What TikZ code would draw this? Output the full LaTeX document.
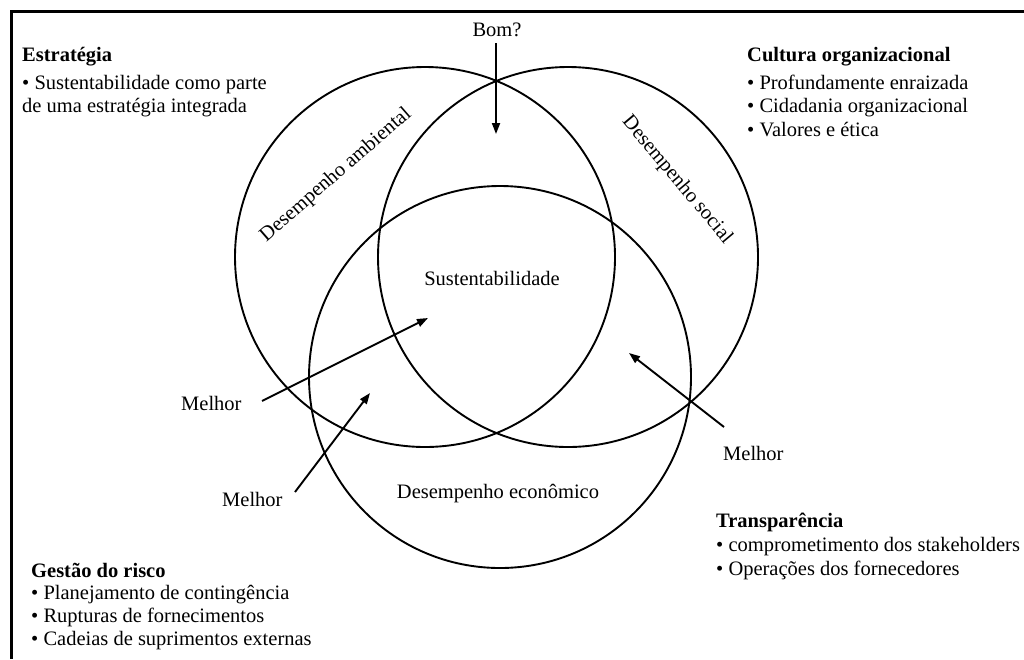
\documentclass[tikz,border=0pt]{standalone}
\usepackage{fontspec}
\setmainfont{Liberation Serif}
\usetikzlibrary{arrows.meta}
\begin{document}
\begin{tikzpicture}[x=1pt,y=-1pt,
  txt/.style={inner sep=0pt, font=\fontsize{20.5pt}{23.5pt}\selectfont},
  head/.style={inner sep=0pt, font=\fontsize{20.5pt}{23.5pt}\selectfont\bfseries},
  line/.style={anchor=base west, txt},
  headline/.style={anchor=base west, head},
  ring/.style={draw=black, line width=1.9pt},
  frameline/.style={draw=black, line width=2.4pt},
  arr/.style={draw=black, line width=1.9pt, -{Triangle[length=11pt,width=8pt]}}
]
\useasboundingbox (0,0) rectangle (1024,659);

% open frame: top edge and left edge
\coordinate (fTL) at (11.5,11.5);
\coordinate (fTR) at (1024,11.5);
\coordinate (fBL) at (11.5,659);
\draw[frameline] (fTR) -- (fTL) -- (fBL);

% the three performance circles
\draw[ring] (425,257) circle[radius=190pt];
\draw[ring] (568,257) circle[radius=190pt];
\draw[ring] (500,377) circle[radius=191pt];

% circle labels
\node[txt, rotate=41] (amb) at (336,175) {Desempenho ambiental};
\node[txt, rotate=-50] (soc) at (677,180) {Desempenho social};
\node[txt, anchor=base] (eco) at (498,498) {Desempenho econômico};
\node[txt, anchor=base] (sus) at (492,285) {Sustentabilidade};

% question at the top and arrow into the upper overlap
\node[txt, anchor=base] (bom) at (497,36) {Bom?};
\coordinate (bomtail) at (496,43);
\coordinate (bomtip) at (496,134);
\draw[arr] (bomtail) -- (bomtip);

% "Melhor" labels and their arrows
\node[line] (melL) at (181,410) {Melhor};
\coordinate (melLtail) at (262,401);
\coordinate (melLtip) at (428,318);
\draw[arr] (melLtail) -- (melLtip);

\node[line] (melB) at (222,506) {Melhor};
\coordinate (melBtail) at (295,492);
\coordinate (melBtip) at (370,393);
\draw[arr] (melBtail) -- (melBtip);

\node[line] (melR) at (723,460) {Melhor};
\coordinate (melRtail) at (724,427);
\coordinate (melRtip) at (629,353);
\draw[arr] (melRtail) -- (melRtip);

% Estratégia
\node[headline] (est) at (22,61) {Estratégia};
\node[line] (est1) at (22,89) {• Sustentabilidade como parte};
\node[line] (est2) at (22,112) {de uma estratégia integrada};

% Cultura organizacional
\node[headline] (cul) at (747,61) {Cultura organizacional};
\node[line] (cul1) at (747,89.5) {• Profundamente enraizada};
\node[line] (cul2) at (747,112.5) {• Cidadania organizacional};
\node[line] (cul3) at (747,136) {• Valores e ética};

% Transparência
\node[headline] (tra) at (716,527) {Transparência};
\node[line] (tra1) at (716,551) {• comprometimento dos stakeholders};
\node[line] (tra2) at (716,575) {• Operações dos fornecedores};

% Gestão do risco
\node[headline] (ges) at (31,577) {Gestão do risco};
\node[line] (ges1) at (31,599.5) {• Planejamento de contingência};
\node[line] (ges2) at (31,622) {• Rupturas de fornecimentos};
\node[line] (ges3) at (31,645.5) {• Cadeias de suprimentos externas};
\end{tikzpicture}
\end{document}
